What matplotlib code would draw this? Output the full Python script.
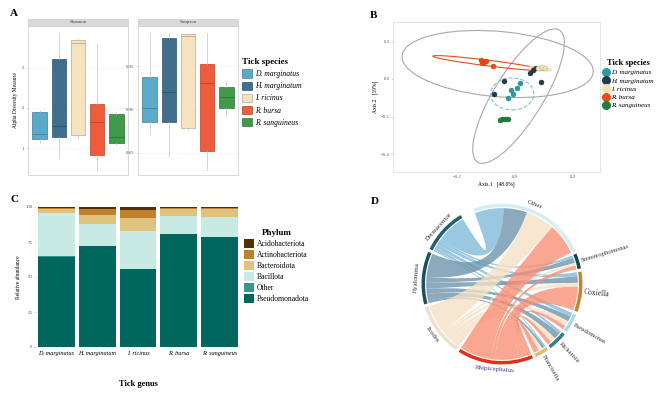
import numpy as np
import matplotlib.pyplot as plt
import matplotlib.colors as mcolors
from matplotlib.patches import Patch, Rectangle, Ellipse, PathPatch, Wedge
from matplotlib.lines import Line2D
from matplotlib.path import Path

plt.rcParams['font.family'] = ['Liberation Serif', 'DejaVu Serif']

# ---------------- data ----------------
species = ['D. marginatus', 'H. marginatum', 'I. ricinus', 'R. bursa', 'R. sanguineus']
box_colors = ['#5AAAC9', '#3F6F8C', '#F5E2BE', '#EF5B3B', '#3F9B4A']

# panel A, box statistics
shannon_lo = [1.12, 0.75, 1.25, 0.46, 1.08]
shannon_q1 = [1.22, 1.27, 1.32, 0.83, 1.12]
shannon_med = [1.35, 1.54, 3.62, 1.64, 1.27]
shannon_q3 = [1.89, 3.22, 3.69, 2.09, 1.86]
shannon_hi = [1.95, 3.86, 3.72, 3.59, 1.90]

simpson_lo = [0.872, 0.845, 0.876, 0.830, 0.891]
simpson_q1 = [0.885, 0.885, 0.879, 0.852, 0.902]
simpson_med = [0.902, 0.920, 0.985, 0.930, 0.914]
simpson_q3 = [0.938, 0.983, 0.987, 0.953, 0.926]
simpson_hi = [0.988, 0.989, 0.989, 0.988, 0.933]

# panel B, PCoA points
pcoa_colors = ['#2B9C9E', '#1F3B4D', '#ECE3B0', '#E94B1B', '#1F7F3A']
pc1 = {
    'D. marginatus': [-0.014, -0.007, 0.007, 0.017, -0.024],
    'H. marginatum': [-0.072, -0.038, 0.052, 0.062, 0.072, 0.090],
    'I. ricinus': [0.079, 0.093, 0.103],
    'R. bursa': [-0.117, -0.107, -0.114, -0.100, -0.076],
    'R. sanguineus': [-0.045, -0.034, -0.024, -0.052],
}
pc2 = {
    'D. marginatus': [-0.059, -0.080, -0.048, -0.021, -0.101],
    'H. marginatum': [-0.080, -0.011, 0.032, 0.048, 0.059, -0.016],
    'I. ricinus': [0.059, 0.064, 0.059],
    'R. bursa': [0.101, 0.091, 0.085, 0.096, 0.069],
    'R. sanguineus': [-0.213, -0.213, -0.213, -0.219],
}
# confidence ellipses: centre x, centre y, width, height, angle
ell_x = [-0.060, 0.012, -0.093, -0.010, 0.085]
ell_y = [0.080, -0.091, 0.085, -0.080, 0.055]
ell_w = [0.666, 0.762, 0.388, 0.150, 0.080]
ell_h = [0.346, 0.183, 0.030, 0.170, 0.020]
ell_ang = [-9.2, 69.6, -11.0, 0.0, -10.0]
ell_col = ['#A8A8A8', '#A8A8A8', '#E94B1B', '#7CC7C7', '#E6D9A8']
ell_ls = ['-', '-', '-', '--', '-']

# panel C, relative abundance (%)
phyla = ['Pseudomonadota', 'Other', 'Bacillota', 'Bacteroidota', 'Actinobacteriota', 'Acidobacteriota']
phylum_colors = ['#01665E', '#35978F', '#C7EAE5', '#DFC27D', '#BF812D', '#543005']
abund = {
    'Pseudomonadota': [64.5, 72.0, 55.5, 80.5, 78.3],
    'Other': [0.5, 0.5, 0.5, 0.5, 0.5],
    'Bacillota': [30.5, 15.3, 27.0, 12.3, 13.8],
    'Bacteroidota': [3.3, 6.7, 9.0, 5.5, 6.0],
    'Actinobacteriota': [0.7, 4.3, 6.0, 0.8, 0.9],
    'Acidobacteriota': [0.5, 1.2, 2.0, 0.4, 0.5],
}

# panel D, chord links (tick genus x bacterial genus)
tick_genera = ['Dermacentor', 'Hyalomma', 'Ixodes', 'Rhipicephalus']
bact_genera = ['Other', 'Stenotrophomonas', 'Coxiella', 'Pseudomonas', 'Rickettsia', 'Francisella']
link_values = [
    [22, 2, 3, 3, 2, 1],
    [18, 4, 5, 4, 5, 2],
    [22, 2, 3, 4, 4, 3],
    [24, 3, 18, 3, 3, 4],
]
ribbon_colors = ['#7DB9D8', '#6B93AC', '#F5E1C4', '#F88D73']
track_colors = {
    'Dermacentor': '#1E5F73', 'Hyalomma': '#1E4F5F', 'Ixodes': '#EFE1CB',
    'Rhipicephalus': '#E3301C', 'Other': '#D4EEF5', 'Stenotrophomonas': '#1A4450',
    'Coxiella': '#BE8630', 'Pseudomonas': '#A6DCEA', 'Rickettsia': '#2F7F8A',
    'Francisella': '#DDBB72',
}

# ---------------- figure ----------------
W, H = 671, 394
fig = plt.figure(figsize=(W / 100, H / 100), dpi=100)


def add_ax(x0, y0, x1, y1):
    return fig.add_axes([x0 / W, 1 - y1 / H, (x1 - x0) / W, (y1 - y0) / H])


def darker(c, f=0.75):
    r, g, b = mcolors.to_rgb(c)
    return (r * f, g * f, b * f)


# ---- A: alpha diversity ----
def box_panel(ax, lo, q1, med, q3, hi, strip):
    stats = [dict(whislo=a, q1=b, med=c, q3=d, whishi=e, fliers=[])
             for a, b, c, d, e in zip(lo, q1, med, q3, hi)]
    bp = ax.bxp(stats, positions=range(5), widths=0.74, patch_artist=True,
                showcaps=False, whiskerprops=dict(color='#C4C4C4', lw=0.5),
                medianprops=dict(lw=0.6))
    for patch, mline, c in zip(bp['boxes'], bp['medians'], box_colors):
        patch.set_facecolor(c)
        patch.set_edgecolor(darker(c))
        patch.set_linewidth(0.5)
        mline.set_color(darker(c))
    ax.set_xlim(-0.6, 4.6)
    ax.set_xticks([])
    ax.grid(axis='y', color='#F0F0F0', lw=0.4)
    ax.set_axisbelow(True)
    for s in ax.spines.values():
        s.set_color('#D3D3D3')
        s.set_linewidth(0.6)
    ax.tick_params(axis='y', length=1.5, width=0.4, color='#BBBBBB',
                   labelsize=3.5, labelcolor='#555555', pad=1)
    ax.add_patch(Rectangle((0, 1), 1, 0.047, transform=ax.transAxes,
                           clip_on=False, fc='#D9D9D9', ec='#D3D3D3', lw=0.6))
    ax.text(0.5, 1.024, strip, transform=ax.transAxes, ha='center', va='center',
            fontsize=3.5, color='#444444')


axA1 = add_ax(28, 26, 128, 175)
box_panel(axA1, shannon_lo, shannon_q1, shannon_med, shannon_q3, shannon_hi, 'Shannon')
axA1.set_ylim(0.33, 4.04)
axA1.set_yticks([1, 2, 3])
axA1.set_ylabel('Alpha Diversity Measure', fontsize=4, labelpad=3)

axA2 = add_ax(138, 26, 238, 175)
box_panel(axA2, simpson_lo, simpson_q1, simpson_med, simpson_q3, simpson_hi, 'Simpson')
axA2.set_ylim(0.824, 0.9966)
axA2.set_yticks([0.85, 0.90, 0.95])
axA2.set_yticklabels(['0.85', '0.90', '0.95'])

handlesA = [Patch(fc=c, ec=darker(c), lw=0.5) for c in box_colors]
legA = fig.legend(handlesA, species, loc='upper left', bbox_to_anchor=(242 / W, 1 - 58 / H),
                  frameon=False, title='Tick species', borderpad=0, borderaxespad=0,
                  prop=dict(size=5.5, style='italic'), handlelength=1.3, handleheight=1.3,
                  labelspacing=0.45, handletextpad=0.4,
                  title_fontproperties=dict(size=6.5, weight='bold'))
legA._legend_box.align = 'left'

# ---- B: PCoA ----
axB = add_ax(393, 22, 600, 172)
for x, y, w, h, a, c, ls in zip(ell_x, ell_y, ell_w, ell_h, ell_ang, ell_col, ell_ls):
    axB.add_patch(Ellipse((x, y), w, h, angle=a, fill=False, ec=c, lw=0.8, ls=ls))
for sp, c in zip(species, pcoa_colors):
    axB.scatter(pc1[sp], pc2[sp], s=13, color=c, edgecolor=darker(c, 0.8), lw=0.3, zorder=3)
axB.set_xlim(-0.421, 0.293)
axB.set_ylim(-0.496, 0.304)
axB.set_xticks([-0.2, 0.0, 0.2])
axB.set_yticks([-0.4, -0.2, 0.0, 0.2])
axB.tick_params(length=1.5, width=0.4, color='#BBBBBB', labelsize=3.5,
                labelcolor='#555555', pad=1)
for s in axB.spines.values():
    s.set_color('#E0E0E0')
    s.set_linewidth(0.6)
axB.set_xlabel('Axis.1   [48.6%]', fontsize=4, labelpad=1.5)
axB.set_ylabel('Axis.2   [19%]', fontsize=4, labelpad=2)

handlesB = [Line2D([], [], ls='', marker='o', ms=5.5, color=c) for c in pcoa_colors]
legB = fig.legend(handlesB, species, loc='upper left', bbox_to_anchor=(603 / W, 1 - 59 / H),
                  frameon=False, title='Tick species', borderpad=0, borderaxespad=0,
                  prop=dict(size=5, style='italic'), handlelength=0.8,
                  labelspacing=0.35, handletextpad=0.3,
                  title_fontproperties=dict(size=6, weight='bold'))

# ---- C: stacked bars ----
axC = add_ax(36, 207, 240, 347)
bottom = np.zeros(len(species))
for ph, c in zip(phyla, phylum_colors):
    axC.bar(range(len(species)), abund[ph], bottom=bottom, width=0.9, color=c, lw=0)
    bottom += np.array(abund[ph])
axC.set_xlim(-0.5, 4.5)
axC.set_ylim(0, 100)
axC.set_yticks([0, 25, 50, 75, 100])
axC.set_xticks(range(len(species)))
axC.set_xticklabels(species, fontsize=4.5, style='italic')
axC.tick_params(axis='y', length=1.5, width=0.4, color='#BBBBBB', labelsize=3.5,
                labelcolor='#555555', pad=1)
axC.tick_params(axis='x', length=0, pad=3)
for s in axC.spines.values():
    s.set_visible(False)
axC.set_ylabel('Relative abundance', fontsize=4, labelpad=3)
axC.set_xlabel('Tick genus', fontsize=6, weight='bold', labelpad=17)

handlesC = [Patch(fc=c) for c in phylum_colors[::-1]]
legC = fig.legend(handlesC, phyla[::-1], loc='upper left', bbox_to_anchor=(244 / W, 1 - 229 / H),
                  frameon=False, title='Phylum', borderpad=0, borderaxespad=0,
                  prop=dict(size=5.5), handlelength=1.3, handleheight=1.3,
                  labelspacing=0.3, handletextpad=0.4,
                  title_fontproperties=dict(size=6.5, weight='bold'))

# ---- D: chord diagram ----
axD = add_ax(372, 184, 632, 384)
R = 77.0
axD.set_xlim(-130 / R, 130 / R)
axD.set_ylim(-100 / R, 100 / R)
axD.axis('off')

M = np.array(link_values, dtype=float)
order = bact_genera + tick_genera[::-1]
sizes = dict(zip(bact_genera, M.sum(axis=0)))
sizes.update(zip(tick_genera, M.sum(axis=1)))
gaps = [2.2] * 9 + [10.0]
unit = (360 - sum(gaps)) / (2 * M.sum())

spans = {}
a = 111.0
for name, g in zip(order, gaps):
    spans[name] = (a, a - sizes[name] * unit)
    a -= sizes[name] * unit + g

sub = {}
for j, b in enumerate(bact_genera):
    a = spans[b][0]
    for i, t in enumerate(tick_genera):
        w = M[i, j] * unit
        sub[(t, b, 'b')] = (a, a - w)
        a -= w
for i, t in enumerate(tick_genera):
    a = spans[t][0]
    for j in reversed(range(len(bact_genera))):
        b = bact_genera[j]
        w = M[i, j] * unit
        sub[(t, b, 't')] = (a, a - w)
        a -= w


def ribbon(a1, a2, b1, b2, r=0.985):
    ta = np.radians(np.linspace(a1, a2, 25))
    tb = np.radians(np.linspace(b1, b2, 25))
    verts = [(r * np.cos(t), r * np.sin(t)) for t in ta]
    codes = [Path.MOVETO] + [Path.LINETO] * (len(ta) - 1)
    verts += [(0, 0), (r * np.cos(tb[0]), r * np.sin(tb[0]))]
    codes += [Path.CURVE3, Path.CURVE3]
    verts += [(r * np.cos(t), r * np.sin(t)) for t in tb[1:]]
    codes += [Path.LINETO] * (len(tb) - 1)
    verts += [(0, 0), (r * np.cos(ta[0]), r * np.sin(ta[0]))]
    codes += [Path.CURVE3, Path.CURVE3]
    return Path(verts, codes)


for i, t in enumerate(tick_genera):
    for j, b in enumerate(bact_genera):
        if M[i, j] <= 0:
            continue
        a1, a2 = sub[(t, b, 't')]
        b1, b2 = sub[(t, b, 'b')]
        axD.add_patch(PathPatch(ribbon(a1, a2, b1, b2), fc=ribbon_colors[i],
                                ec='none', alpha=0.78))

for name in order:
    s, e = spans[name]
    axD.add_patch(Wedge((0, 0), 1.045, e, s, width=0.045, fc=track_colors[name], ec='none'))
    mid = np.radians((s + e) / 2)
    deg = (s + e) / 2
    if name in tick_genera or name == 'Other':
        rot = deg - 90 if np.sin(mid) > 0 else deg + 90
        col = '#4B3C8C' if name == 'Rhipicephalus' else '#333333'
        axD.text(1.11 * np.cos(mid), 1.11 * np.sin(mid), name, rotation=rot,
                 ha='center', va='center', fontsize=5, color=col, rotation_mode='anchor')
    else:
        axD.text(1.07 * np.cos(mid), 1.07 * np.sin(mid), name, rotation=deg,
                 ha='left', va='center', fontsize=4.8 if name != 'Coxiella' else 5.5,
                 color='#333333', rotation_mode='anchor')

# ---- panel letters ----
for lab, x, y in [('A', 14, 14), ('B', 373, 15), ('C', 14, 199), ('D', 375, 201)]:
    fig.text(x / W, 1 - y / H, lab, fontsize=8, weight='bold', ha='center', va='center')

fig.savefig('out.png', dpi=100)
